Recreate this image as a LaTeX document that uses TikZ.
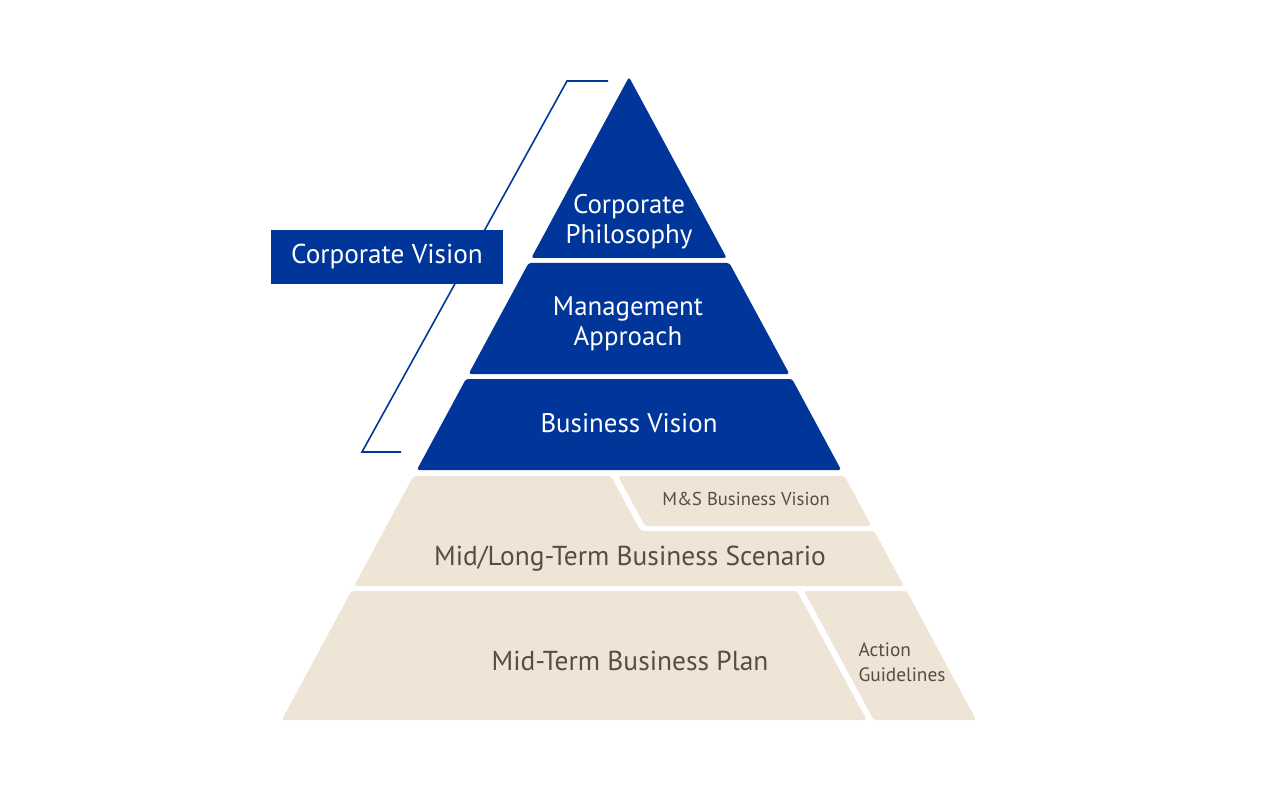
\documentclass[tikz,border=0pt]{standalone}
\usepackage{fontspec}
\setmainfont{PT Sans}
\definecolor{visionblue}{RGB}{0,54,153}
\definecolor{planbeige}{RGB}{239,229,215}
\definecolor{planbrown}{RGB}{90,76,64}

\begin{document}
\begin{tikzpicture}[x=0.02cm,y=-0.02cm,
		bluelayer/.style={fill=visionblue,rounded corners=1.5pt},
		beigelayer/.style={fill=planbeige,rounded corners=1.5pt},
		bluetext/.style={text=white,align=center,font=\fontsize{15.3}{17}\selectfont},
		browntext/.style={text=planbrown,align=center,font=\fontsize{15.6}{17}\selectfont},
		smalltext/.style={text=planbrown,align=left,font=\fontsize{11}{14.5}\selectfont}]
				\useasboundingbox (0,0) rectangle (1280,800);

				% blue part of the pyramid
				\fill[bluelayer] (629,77)--(726.7,258)--(531.3,258)--cycle;
				\fill[bluelayer] (528.6,263)--(729.4,263)--(789.4,374)--(468.6,374)--cycle;
				\fill[bluelayer] (465.9,379)--(792.1,379)--(841.2,470)--(416.8,470)--cycle;

				% beige part of the pyramid
				\fill[beigelayer] (618,476)--(844.5,476)--(871.5,526)--(645,526)--cycle;
				\fill[beigelayer] (413.5,476)--(611,476)--(640.7,531)--(874.2,531)--(903.9,586)--(354.1,586)--cycle;
				\fill[beigelayer] (351.4,591)--(797,591)--(866.7,720)--(281.8,720)--cycle;
				\fill[beigelayer] (804,591)--(906.6,591)--(976.2,720)--(873.7,720)--cycle;

				% bracket
				\coordinate (B1) at (608,81);
				\coordinate (B2) at (567,81);
				\coordinate (B3) at (362,452);
				\coordinate (B4) at (401,452);
				\draw[visionblue,line width=0.9pt] (B1)--(B2)--(B3)--(B4);

				\node (vision) at (387,257)[fill=visionblue,text=white,minimum width=4.64cm,minimum height=1.08cm,font=\fontsize{15.5}{17}\selectfont]{Corporate Vision};

				\node (philosophy) at (629,222)[bluetext]{Corporate\\Philosophy};
				\node (approach) at (628,324)[bluetext]{Management\\Approach};
				\node (business) at (629,423)[bluetext]{Business Vision};
				\node (ms) at (746,499)[smalltext,font=\fontsize{10.6}{14.5}\selectfont]{M\&S Business Vision};
				\node (scenario) at (630,559)[browntext]{Mid/Long-Term Business Scenario};
				\node (plan) at (630,661)[browntext]{Mid-Term Business Plan};
				\node (action) at (902,662)[smalltext]{Action\\Guidelines};
			\end{tikzpicture}
\end{document}
